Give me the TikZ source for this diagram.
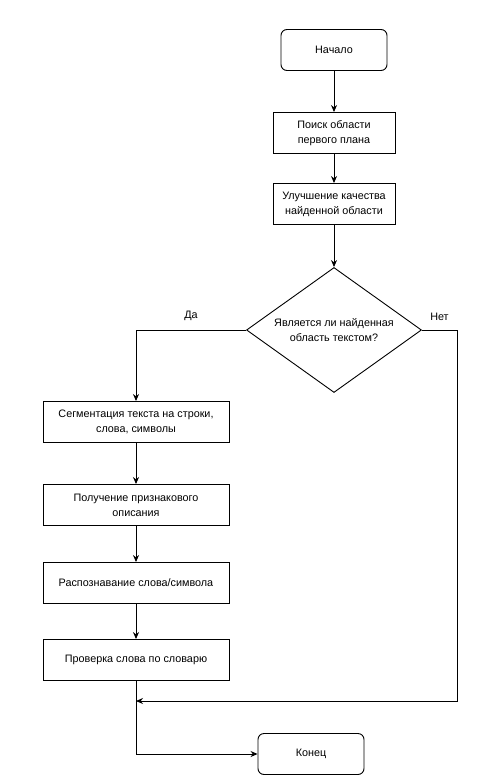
\documentclass[tikz,border=0pt]{standalone}
\usepackage{fontspec}
\setmainfont{Liberation Sans}
\usetikzlibrary{arrows.meta,shapes,positioning}
\usetikzlibrary{calc}

\begin{document}
\begin{tikzpicture}[x=1pt,y=1pt,line width=0.9pt,
		every node/.style={font=\fontsize{10.8}{15}\selectfont,align=center,line width=0.9pt},
		>={Stealth[length=7pt,width=6pt]},
		term/.style={draw,rounded corners=6pt,minimum width=106pt,minimum height=41pt},
		block/.style={draw,minimum width=122pt,minimum height=41pt},
		wide/.style={draw,minimum width=186pt,minimum height=41pt},
		decision/.style={draw,diamond,aspect=1.4,minimum width=175pt,minimum height=125pt,inner sep=0pt}]
		\useasboundingbox (0,0) rectangle (482,-781);
		\node[term] (start) at (334,-50) {Начало};
		\node[block] (search) [below of=start, node distance=83pt] {Поиск области\\первого плана};
		\node[block] (enhance) [below of=search, node distance=71pt] {Улучшение качества\\найденной области};
		\node[decision] (istext) [below of=enhance, node distance=126pt] {Является ли найденная\\область текстом?};
		\node[wide] (segment) at (136,-422) {Сегментация текста на строки,\\слова, символы};
		\node[wide] (features) [below of=segment, node distance=83pt] {Получение признакового\\описания};
		\node[wide] (recognize) [below of=features, node distance=78pt] {Распознавание слова/символа};
		\node[wide] (check) [below of=recognize, node distance=77pt] {Проверка слова по словарю};
		\node[term] (finish) at (311,-754) {Конец};
		\coordinate (nocorner) at (457,-701);
		\coordinate (join) at (136,-701);
		\draw[->] (start) -- (search);
		\draw[->] (search) -- (enhance);
		\draw[->] (enhance) -- (istext);
		\draw[->] (istext.west) -| node[pos=0.25,above=6pt] {Да} (segment.north);
		\draw[->] (istext.east) -| node[pos=0.25,above=6pt] {Нет} (nocorner) -- (join);
		\draw[->] (segment) -- (features);
		\draw[->] (features) -- (recognize);
		\draw[->] (recognize) -- (check);
		\draw[->] (check.south) |- (finish.west);
	\end{tikzpicture}
\end{document}
